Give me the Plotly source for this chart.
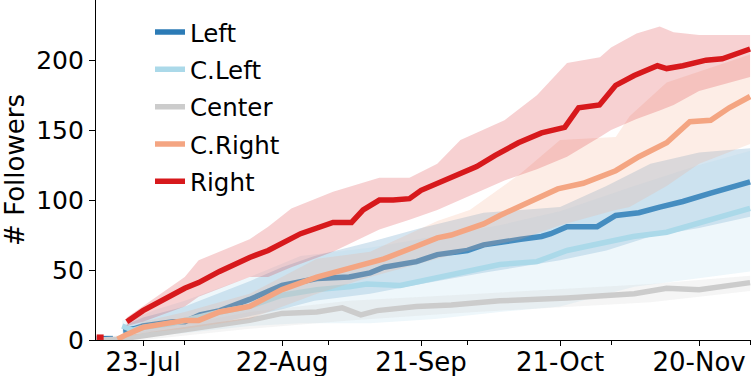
import pandas as pd
import plotly.graph_objects as go

BASE = "2019-07-23"  # day 0 of the offsets below (23-Jul)

# ---------------- data (day offsets from 23-Jul, values = # followers) --------
right_days = [-10, -8.5, -8.4, -3.5, 0, 9, 12, 16.5, 19.5, 23, 27, 34, 41, 45, 47.5, 51, 54, 57.5, 60,
              63.5, 68, 72, 76, 81, 86, 91, 94, 98.5, 102, 106, 111, 113, 116.5, 121.5, 125, 128, 131]
right_mean = [2, 2, None, 13, 21, 37, 41, 49, 54, 59, 64, 76, 84, 84, 93, 100, 100, 101, 107,
              112, 119, 124, 132, 141, 148, 152, 166, 168, 182, 189, 196, 194, 196, 200, 201, 205, 208]
right_band_days = [-3.5, 0, 9, 12, 23, 27, 32, 41, 51, 57.5, 63.5, 68.5, 78, 85, 91.5, 98.6, 101,
                   106.5, 111.5, 114.5, 120, 131]
right_lo = [10, 13, 24, 31, 45, 45, 52, 63, 79, 86, 93, 100, 114, 122, 131, 145, 150, 158, 164, 168, 178, 188]
right_hi = [16, 24, 45, 57, 72, 81, 94, 106, 116, 116, 126, 143, 157, 175, 198, 202, 209, 219, 224, 220, 218, 218]

cright_days = [-5.5, -3.5, 0, 9, 12, 16.5, 23, 30, 37.5, 44.5, 49, 52, 59, 63.5, 66.5, 73.5, 77,
               88, 89.5, 95, 102, 107, 113, 118, 122.5, 126.5, 131]
cright_mean = [0.5, 4, 9, 14, 14, 20, 24, 36, 45, 51, 55, 58, 67, 73, 75, 83, 89,
               106, 108, 112, 121, 131, 141, 156, 157, 166, 174]
cright_band_days = [-5.5, 0, 9, 23, 37.5, 49, 63.5, 70.5, 81.5, 90, 102, 105, 113, 120, 131]
cright_lo = [0, 5, 8, 15, 33, 45, 58, 64, 72, 82, 93, 95, 110, 126, 140]
cright_hi = [1, 13, 20, 33, 58, 63, 85, 93, 119, 143, 145, 160, 184, 192, 204]

center_days = [-10, -5.5, 0, 9, 16.5, 23, 30, 37.5, 43, 47, 50.5, 59, 66.5, 77, 91.5, 106, 113, 120, 131]
center_mean = [0, 0.5, 3, 7, 11, 14, 19, 20, 23, 18, 21, 24, 25, 28, 30, 33, 37, 36, 41]
center_band_days = [-10, 0, 23, 44.5, 66.5, 88, 109.5, 131]
center_lo = [0, 0, 8, 14, 19, 23, 27, 35]
center_hi = [1, 6, 20, 28, 32, 36, 40, 46]

cleft_days = [-4.5, -2.2, 0, 6.5, 16.6, 23, 30, 37.5, 44.5, 48.3, 55.5, 62.6, 70, 77, 85,
              91.5, 98.6, 105.8, 113, 120, 131]
cleft_mean = [10, 7, 9, 12, 20, 24, 32, 36, 38, 40, 39, 44, 49, 54, 56,
              64, 69, 74, 77, 84, 94]
cleft_band_days = [-4.5, 0, 3, 9, 23, 34, 49, 63, 77, 90, 106, 120, 131]
cleft_lo = [5, 2, 3, 5, 10, 12, 12, 15, 20, 24, 38, 44, 49]
cleft_hi = [14, 18, 22, 28, 45, 60, 66, 74, 82, 92, 110, 125, 135]

left_days = [-10, -6.5, -6.4, -4.3, -2, 0, 6.5, 9, 12.3, 16.6, 23, 30, 37.5, 44.5, 49, 52, 59, 63.5,
             66.5, 70, 73.5, 77, 81.5, 86, 88, 91.5, 98, 102, 107, 111.5, 116.5, 122.5, 127.3, 131]
left_mean = [1, 1, None, 7, 8, 10, 13, 13, 18, 21, 29, 39, 44, 45, 48, 52, 56, 61,
             62, 64, 68, 70, 72, 74, 76, 81, 81, 89, 91, 95, 99, 105, 109, 113]
left_band_days = [-4.3, 0, 9, 23, 30, 37, 49, 60, 73.5, 90, 100, 109.5, 120, 131]
left_lo = [4, 5, 7, 17, 22, 28, 33, 40, 48, 57, 64, 74, 80, 88]
left_hi = [10, 16, 24, 42, 52, 60, 70, 80, 91, 95, 110, 126, 134, 137]

series_names = ["Left", "C.Left", "Center", "C.Right", "Right"]
tick_days = [0, 30, 60, 90, 120]
tick_labels = ["23-Jul", "22-Aug", "21-Sep", "21-Oct", "20-Nov"]
y_ticks = [0, 50, 100, 150, 200]

# ---------------- styling --------------------------------------------------
colors = {"Left": "#2c7bb6", "C.Left": "#abd9e9", "Center": "#cccccc",
          "C.Right": "#f4a582", "Right": "#d7191c"}
fills = {"Left": "rgba(44,123,182,0.2)", "C.Left": "rgba(171,217,233,0.2)",
         "Center": "rgba(204,204,204,0.2)", "C.Right": "rgba(244,165,130,0.2)",
         "Right": "rgba(215,25,28,0.2)"}

data = {
    "Left": (left_days, left_mean, left_band_days, left_lo, left_hi),
    "C.Left": (cleft_days, cleft_mean, cleft_band_days, cleft_lo, cleft_hi),
    "Center": (center_days, center_mean, center_band_days, center_lo, center_hi),
    "C.Right": (cright_days, cright_mean, cright_band_days, cright_lo, cright_hi),
    "Right": (right_days, right_mean, right_band_days, right_lo, right_hi),
}

base = pd.Timestamp(BASE)


def to_dates(days):
    return list(base + pd.to_timedelta(days, unit="D"))


FONT = "DejaVu Sans"
fig = go.Figure()

for name in series_names:
    d, m, bd, lo, hi = data[name]
    bx = to_dates(bd)
    fig.add_trace(go.Scatter(
        x=bx + bx[::-1], y=hi + lo[::-1], fill="toself", fillcolor=fills[name],
        line=dict(width=0), mode="lines", hoverinfo="skip", showlegend=False))
    fig.add_trace(go.Scatter(
        x=to_dates(d), y=m, mode="lines", name=name, legendgroup=name,
        line=dict(color=colors[name], width=5.5), connectgaps=False))

fig.update_layout(
    width=751, height=376,
    margin=dict(l=96, r=0, t=0, b=36),
    paper_bgcolor="white", plot_bgcolor="white",
    font=dict(family=FONT, size=25, color="black"),
    legend=dict(x=(150 - 96) / 655, y=0.972, xanchor="left", yanchor="top",
                bgcolor="rgba(0,0,0,0)", font=dict(size=24.5, family=FONT),
                tracegroupgap=2.5),
    showlegend=True,
)

fig.update_xaxes(
    type="date", automargin=False,
    range=[base + pd.Timedelta(days=-10.15), base + pd.Timedelta(days=131.2)],
    tickmode="array", tickvals=to_dates(tick_days), ticktext=tick_labels,
    ticks="outside", ticklen=5, tickwidth=1.2, tickcolor="black",
    ticklabelstandoff=-6,
    minor=dict(ticks="outside", ticklen=3.5, tickwidth=1, tickcolor="black",
               dtick="M1", tick0="2019-07-01", showgrid=False),
    showline=True, linecolor="black", linewidth=1.2,
    showgrid=False, zeroline=False,
    tickfont=dict(size=26, family=FONT, color="black"),
)
fig.update_yaxes(
    automargin=False,
    range=[0, 243], tickmode="array", tickvals=y_ticks,
    ticks="outside", ticklen=6, tickwidth=1.2, tickcolor="black",
    showline=True, linecolor="black", linewidth=1.2,
    showgrid=False, zeroline=False,
    tickfont=dict(size=25, family=FONT, color="black"),
    title=dict(text="# Followers", font=dict(size=26, family=FONT), standoff=8),
)

fig.write_html("out.html", config={"displayModeBar": False},
               post_script="document.body.style.margin='0';document.body.style.overflow='hidden';")
